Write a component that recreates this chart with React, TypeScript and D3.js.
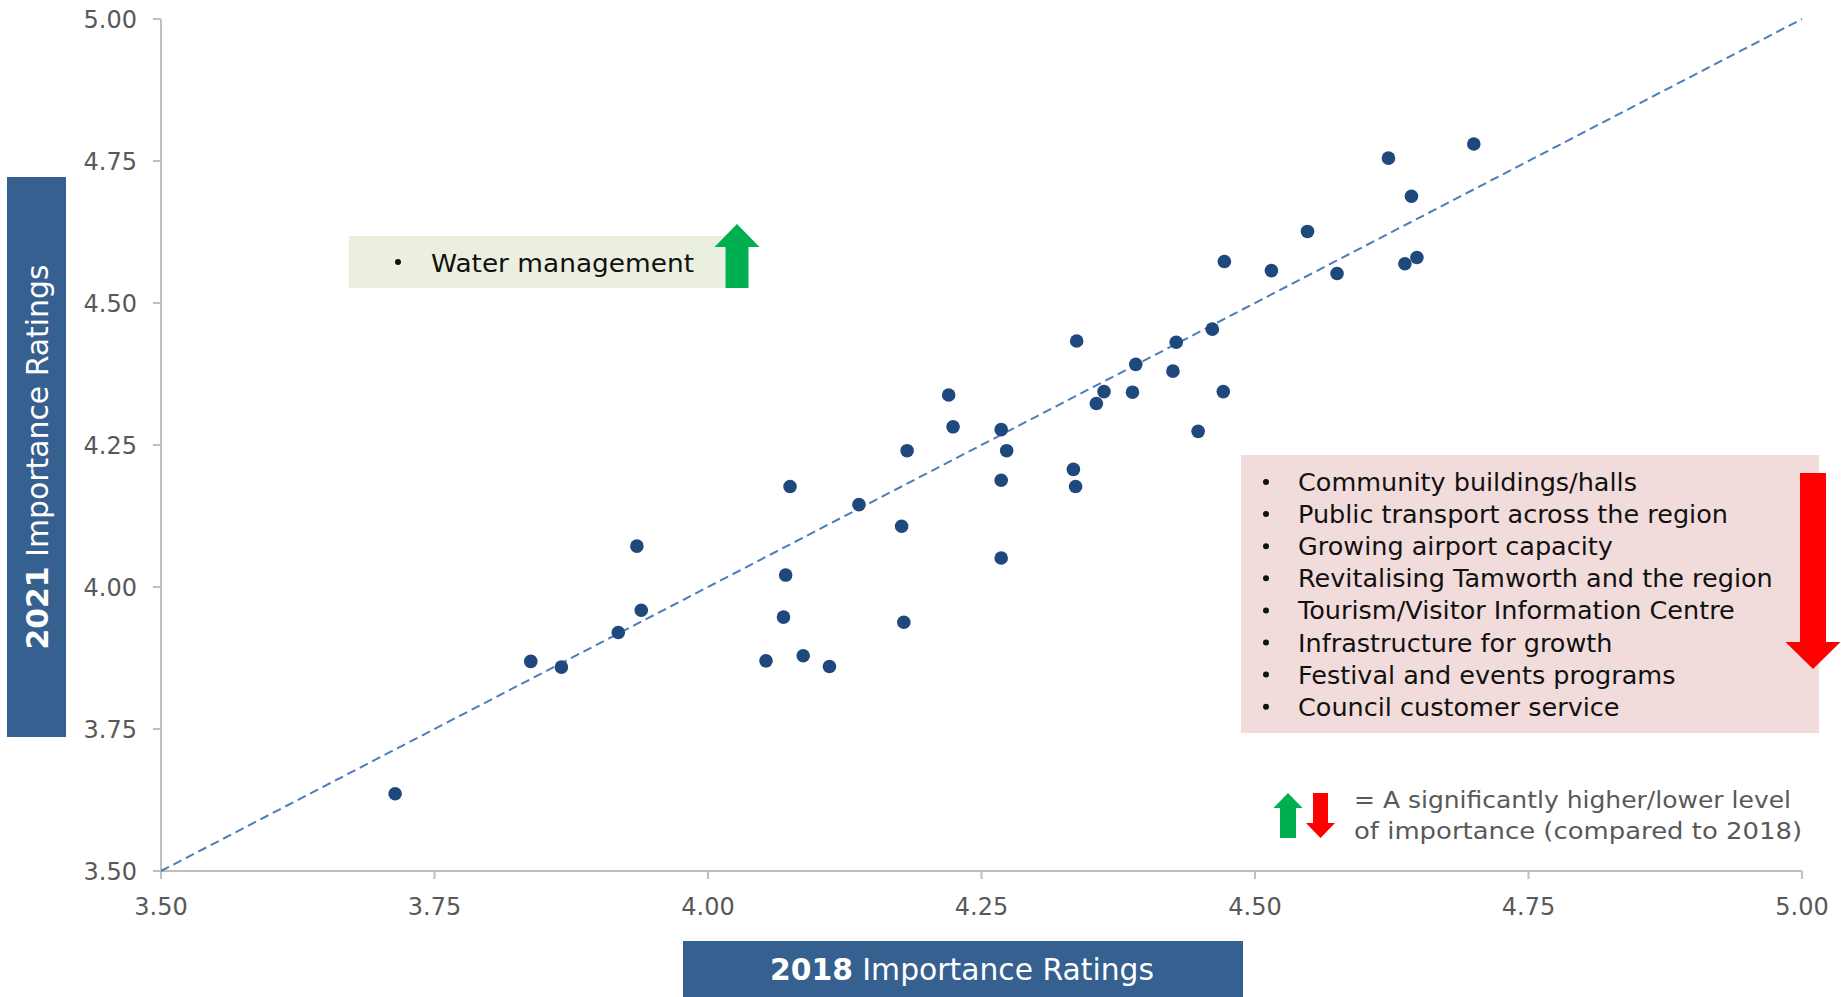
import React from "react";
import * as d3 from "d3";

const x2018: number[] = [
  3.714, 3.838, 3.866, 3.918, 3.935, 3.939, 4.053, 4.069, 4.071, 4.075, 4.087,
  4.111, 4.138, 4.177, 4.179, 4.182, 4.22, 4.224, 4.268, 4.268, 4.268, 4.273,
  4.334, 4.336, 4.337, 4.355, 4.362, 4.388, 4.391, 4.425, 4.428, 4.448, 4.461,
  4.471, 4.472, 4.515, 4.548, 4.575, 4.622, 4.637, 4.643, 4.648, 4.7,
];
const y2021: number[] = [
  3.636, 3.869, 3.859, 3.92, 4.072, 3.959, 3.87, 3.947, 4.021, 4.177, 3.879,
  3.86, 4.145, 4.107, 3.938, 4.24, 4.338, 4.282, 4.277, 4.188, 4.051, 4.24,
  4.207, 4.177, 4.433, 4.323, 4.344, 4.343, 4.392, 4.38, 4.431, 4.274, 4.454,
  4.344, 4.573, 4.557, 4.626, 4.552, 4.755, 4.569, 4.688, 4.58, 4.78,
];
const tickValues: number[] = [3.5, 3.75, 4.0, 4.25, 4.5, 4.75, 5.0];
const higherItems: string[] = ["Water management"];
const lowerItems: string[] = [
  "Community buildings/halls",
  "Public transport across the region",
  "Growing airport capacity",
  "Revitalising Tamworth and the region",
  "Tourism/Visitor Information Centre",
  "Infrastructure for growth",
  "Festival and events programs",
  "Council customer service",
];
const legendLines: string[] = [
  "= A significantly higher/lower level",
  "of importance (compared to 2018)",
];
const legendWidths: number[] = [437, 448];

const FONT = "'DejaVu Sans', 'Open Sans', sans-serif";

const upArrow = (cx: number, top: number, bottom: number, stemW: number, headW: number, headH: number) =>
  `M${cx},${top} L${cx + headW / 2},${top + headH} L${cx + stemW / 2},${top + headH} L${cx + stemW / 2},${bottom} L${cx - stemW / 2},${bottom} L${cx - stemW / 2},${top + headH} L${cx - headW / 2},${top + headH} Z`;
const downArrow = (cx: number, top: number, bottom: number, stemW: number, headW: number, headH: number) =>
  `M${cx},${bottom} L${cx + headW / 2},${bottom - headH} L${cx + stemW / 2},${bottom - headH} L${cx + stemW / 2},${top} L${cx - stemW / 2},${top} L${cx - stemW / 2},${bottom - headH} L${cx - headW / 2},${bottom - headH} Z`;

export default function App() {
  const x = d3.scaleLinear().domain([3.5, 5]).range([161, 1802]);
  const y = d3.scaleLinear().domain([3.5, 5]).range([871, 19]);
  const fmt = d3.format(".2f");
  const points = x2018.map((v, i) => ({ x: v, y: y2021[i] }));
  const axisColor = "#bfbfbf";
  const labelColor = "#595959";

  return (
    <svg
      width={1841}
      height={997}
      style={{ position: "absolute", left: 0, top: 0, background: "#fff" }}
      fontFamily={FONT}
    >
      {/* axes */}
      <line x1={x(3.5)} x2={x(3.5)} y1={y(5)} y2={y(3.5)} stroke={axisColor} strokeWidth={2} />
      <line x1={x(3.5)} x2={x(5)} y1={y(3.5)} y2={y(3.5)} stroke={axisColor} strokeWidth={2} />
      {tickValues.map((t) => (
        <g key={"yt" + t}>
          <line x1={x(3.5) - 8} x2={x(3.5)} y1={y(t)} y2={y(t)} stroke={axisColor} strokeWidth={2} />
          <text x={137} y={y(t)} dy="0.36em" textAnchor="end" fontSize={24} fill={labelColor}>
            {fmt(t)}
          </text>
        </g>
      ))}
      {tickValues.map((t) => (
        <g key={"xt" + t}>
          <line x1={x(t)} x2={x(t)} y1={y(3.5)} y2={y(3.5) + 8} stroke={axisColor} strokeWidth={2} />
          <text x={x(t)} y={915} textAnchor="middle" fontSize={24} fill={labelColor}>
            {fmt(t)}
          </text>
        </g>
      ))}

      {/* diagonal reference line */}
      <line
        x1={x(3.5)}
        y1={y(3.5)}
        x2={x(5)}
        y2={y(5)}
        stroke="#4a7ebb"
        strokeWidth={2}
        strokeDasharray="9 5"
      />

      {/* points */}
      {points.map((p, i) => (
        <circle key={i} cx={x(p.x)} cy={y(p.y)} r={6.8} fill="#1f497d" />
      ))}

      {/* higher box */}
      <rect x={349} y={236} width={392} height={52} fill="#ebefdf" />
      {higherItems.map((s, i) => (
        <g key={s}>
          <circle cx={398} cy={262} r={3} fill="#111" />
          <text x={431} y={272 + i * 32} fontSize={25} fill="#111" textLength={263} lengthAdjust="spacingAndGlyphs">
            {s}
          </text>
        </g>
      ))}
      <path d={upArrow(737, 224, 288, 23, 45, 23)} fill="#00b050" />

      {/* lower box */}
      <rect x={1241} y={455} width={578} height={278} fill="#f2dcdb" />
      {lowerItems.map((s, i) => (
        <g key={s}>
          <circle cx={1266} cy={482 + i * 32.1} r={3} fill="#111" />
          <text x={1298} y={491 + i * 32.1} fontSize={25.5} fill="#111">
            {s}
          </text>
        </g>
      ))}
      <path d={downArrow(1813, 473, 669, 26, 55, 27)} fill="#ff0000" />

      {/* legend */}
      <path d={upArrow(1288, 793, 838, 16, 29, 15)} fill="#00b050" />
      <path d={downArrow(1320.5, 793, 838, 15, 29, 15)} fill="#ff0000" />
      {legendLines.map((s, i) => (
        <text
          key={s}
          x={1354}
          y={808 + i * 31}
          fontSize={23.5}
          fill={labelColor}
          textLength={legendWidths[i]}
          lengthAdjust="spacingAndGlyphs"
        >
          {s}
        </text>
      ))}

      {/* y title */}
      <rect x={7} y={177} width={59} height={560} fill="#36608f" />
      <text
        transform={`translate(37,457) rotate(-90)`}
        textAnchor="middle"
        dy="0.36em"
        fontSize={30}
        fill="#fff"
        textLength={385}
        lengthAdjust="spacingAndGlyphs"
      >
        <tspan fontWeight="bold">2021</tspan>
        <tspan> Importance Ratings</tspan>
      </text>

      {/* x title */}
      <rect x={683} y={941} width={560} height={56} fill="#36608f" />
      <text
        x={962}
        y={969}
        textAnchor="middle"
        dy="0.36em"
        fontSize={30}
        fill="#fff"
        textLength={384}
        lengthAdjust="spacingAndGlyphs"
      >
        <tspan fontWeight="bold">2018</tspan>
        <tspan> Importance Ratings</tspan>
      </text>
    </svg>
  );
}
